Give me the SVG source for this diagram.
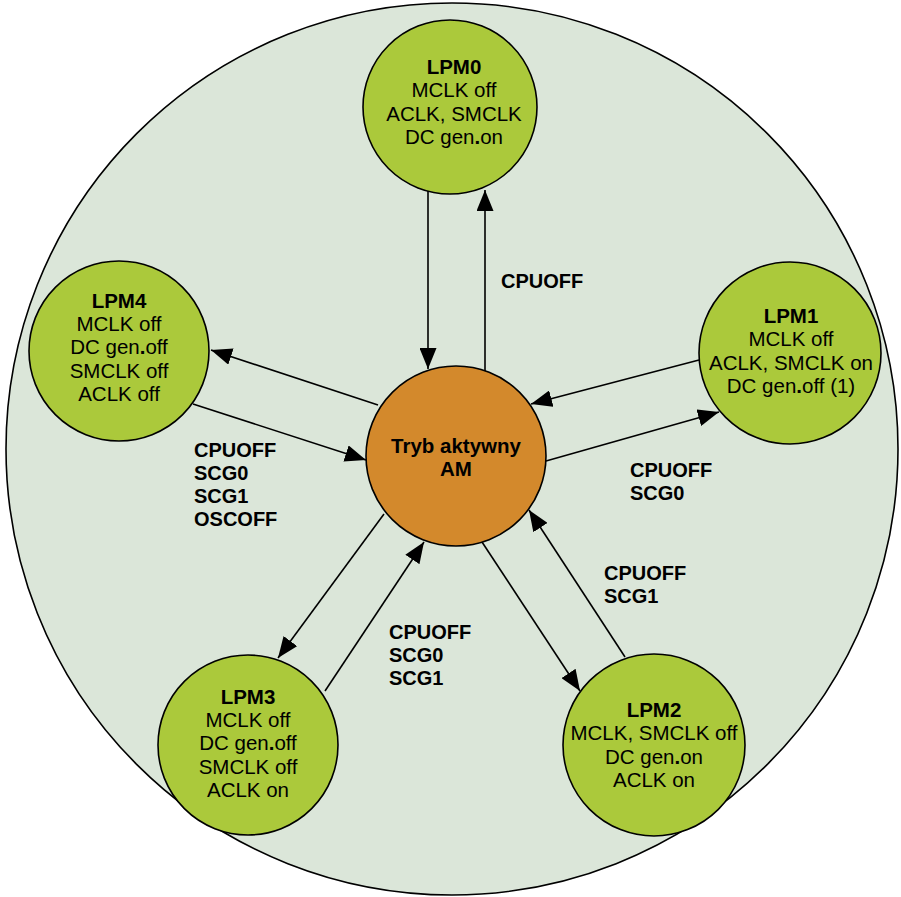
<svg xmlns="http://www.w3.org/2000/svg" width="901" height="897" viewBox="0 0 901 897">
<style>
.node{fill:#abc93b;stroke:#000;stroke-width:1.6}
.am{fill:#d3892c;stroke:#000;stroke-width:1.6}
.t{font-family:"Liberation Sans",Arial,sans-serif;font-size:20.5px;fill:#000;text-anchor:middle}
.b{font-weight:bold}
.lbl{font-family:"Liberation Sans",Arial,sans-serif;font-size:20px;font-weight:bold;fill:#000}
.c line{stroke:#000;stroke-width:1.6;marker-end:url(#ah)}
</style>
<defs>
<marker id="ah" markerUnits="userSpaceOnUse" markerWidth="21" markerHeight="17" refX="21" refY="8.5" orient="auto" viewBox="0 0 21 17">
<path d="M0,0 L21,8.5 L0,17 z" fill="#000"/>
</marker>
</defs>
<rect width="901" height="897" fill="#fff"/>
<circle id="background" cx="452" cy="449" r="446" fill="#dbe6d9" stroke="#000" stroke-width="1.6"/>
<g class="c" id="connectors">
<line x1="428" y1="191" x2="428" y2="369"/>
<line x1="485" y1="371" x2="485" y2="190"/>
<line x1="378" y1="405" x2="211" y2="350"/>
<line x1="193" y1="404" x2="366" y2="460"/>
<line x1="699" y1="360" x2="531" y2="404"/>
<line x1="546" y1="461" x2="719" y2="412"/>
<line x1="482" y1="542" x2="580" y2="691"/>
<line x1="625" y1="657" x2="529" y2="510"/>
<line x1="384" y1="514" x2="278" y2="658"/>
<line x1="325" y1="691" x2="424" y2="542"/>
</g>
<g id="LPM0">
<circle class="node" cx="450" cy="107" r="87"/>
<text class="t" x="454" y="74"><tspan class="b">LPM0</tspan><tspan x="454" dy="23.3">MCLK off</tspan><tspan x="454" dy="23.3">ACLK, SMCLK</tspan><tspan x="454" dy="23.3">DC gen<tspan class="b">.</tspan>on</tspan></text>
</g>
<g id="LPM1">
<circle class="node" cx="790" cy="353" r="91"/>
<text class="t" x="791" y="323"><tspan class="b">LPM1</tspan><tspan x="791" dy="23.3">MCLK off</tspan><tspan x="791" dy="23.3">ACLK, SMCLK on</tspan><tspan x="791" dy="23.3">DC gen<tspan class="b">.</tspan>off (1)</tspan></text>
</g>
<g id="LPM2">
<circle class="node" cx="654" cy="745" r="91"/>
<text class="t" x="654" y="717"><tspan class="b">LPM2</tspan><tspan x="654" dy="23.3">MCLK, SMCLK off</tspan><tspan x="654" dy="23.3">DC gen<tspan class="b">.</tspan>on</tspan><tspan x="654" dy="23.3">ACLK on</tspan></text>
</g>
<g id="LPM3">
<circle class="node" cx="248" cy="745" r="90"/>
<text class="t" x="248" y="704"><tspan class="b">LPM3</tspan><tspan x="248" dy="23.2">MCLK off</tspan><tspan x="248" dy="23.2">DC gen<tspan class="b">.</tspan>off</tspan><tspan x="248" dy="23.2">SMCLK off</tspan><tspan x="248" dy="23.2">ACLK on</tspan></text>
</g>
<g id="LPM4">
<circle class="node" cx="119" cy="351" r="90"/>
<text class="t" x="119" y="308"><tspan class="b">LPM4</tspan><tspan x="119" dy="23.2">MCLK off</tspan><tspan x="119" dy="23.2">DC gen<tspan class="b">.</tspan>off</tspan><tspan x="119" dy="23.2">SMCLK off</tspan><tspan x="119" dy="23.2">ACLK off</tspan></text>
</g>
<g id="AM">
<circle class="am" cx="456" cy="456" r="90"/>
<text class="t b" x="456" y="453">Tryb aktywny<tspan x="456" dy="22.5">AM</tspan></text>
</g>
<g id="labels">
<text class="lbl" x="501" y="288">CPUOFF</text>
<text class="lbl" x="194" y="457">CPUOFF<tspan x="194" dy="23">SCG0</tspan><tspan x="194" dy="23">SCG1</tspan><tspan x="194" dy="23">OSCOFF</tspan></text>
<text class="lbl" x="630" y="477">CPUOFF<tspan x="630" dy="23">SCG0</tspan></text>
<text class="lbl" x="604" y="580">CPUOFF<tspan x="604" dy="23">SCG1</tspan></text>
<text class="lbl" x="389" y="639">CPUOFF<tspan x="389" dy="23">SCG0</tspan><tspan x="389" dy="23">SCG1</tspan></text>
</g>
</svg>
